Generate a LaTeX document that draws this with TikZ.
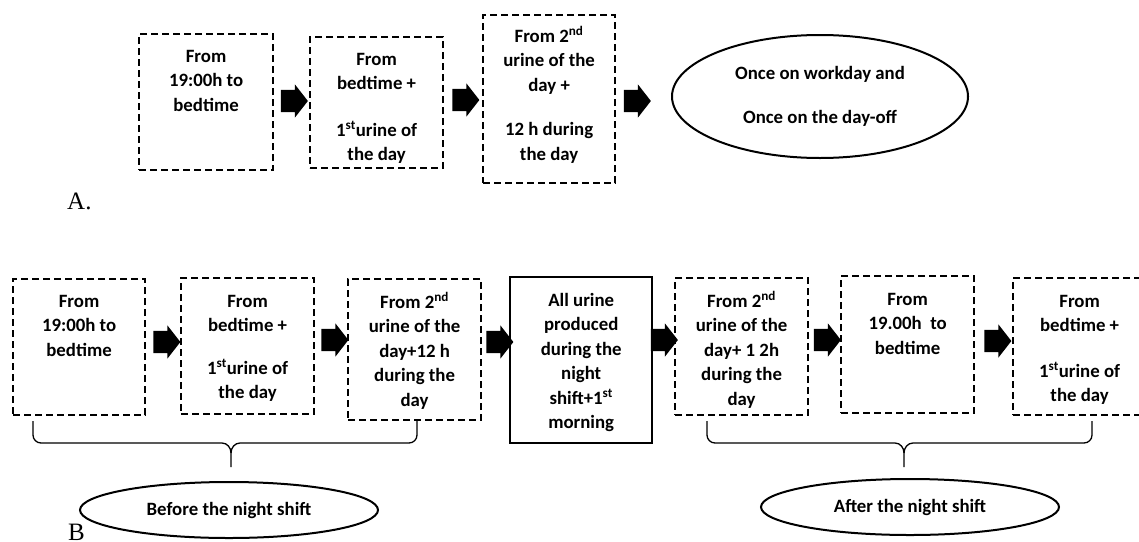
\documentclass[tikz,border=0pt]{standalone}
\usepackage{fontspec}
\setmainfont{Carlito}
\newfontfamily\labfont{Liberation Serif}
\usetikzlibrary{shapes.arrows,shapes.geometric}
\newcommand{\bxt}[4]{\parbox[c][#2pt][t]{#1pt}{\centering\rule{0pt}{#3pt}#4\par}}
\newcommand{\sups}[1]{\textsuperscript{#1}}
\tikzset{
  boxfont/.style={font=\bfseries\fontsize{18.8}{24.5}\selectfont},
  dbox/.style={draw, dash pattern=on 7pt off 4pt, line width=2.2pt, inner sep=0pt, anchor=north west, boxfont},
  sbox/.style={draw, line width=2.4pt, inner sep=0pt, anchor=north west, boxfont},
  barrow/.style={single arrow, fill=black, draw=none, minimum height=27pt, inner xsep=0pt, inner ysep=11pt, single arrow head extend=5.5pt, single arrow tip angle=104, anchor=center},
  oval/.style={ellipse, draw, line width=2pt, inner sep=0pt, align=center, boxfont},
  brace/.style={draw, line width=1.3pt},
  lab/.style={font=\labfont\fontsize{25}{25}\selectfont, anchor=base west, inner sep=0pt}
}
\begin{document}
\begin{tikzpicture}[x=1pt,y=-1pt]
\useasboundingbox (0,0) rectangle (1139,541);
% Row A
\node[dbox] (A1) at (138,33) {\bxt{134}{136}{28}{From\\19:00h to\\bedtime}};
\node[dbox] (A2) at (309,36) {\bxt{133}{131}{28}{From\\bedtime +\\[22pt]1\sups{st}urine of\\the day}};
\node[dbox] (A3) at (482,14) {\bxt{132}{168}{27}{From 2\sups{nd}\\urine of the\\day +\\[20pt]12 h during\\the day}};
\node[oval, minimum width=296pt, minimum height=123pt] (A4) at (820,96.5) {Once on workday and\\[20pt]Once on the day-off};
\node[barrow] (aA1) at (290,101) {};
\node[barrow] (aA2) at (461.5,100) {};
\node[barrow] (aA3) at (633,101) {};
\node[lab] (labA) at (67,209) {A.};
% Row B
\node[dbox] (B1) at (12,278) {\bxt{132}{136}{28}{From\\19:00h to\\bedtime}};
\node[dbox] (B2) at (180,277) {\bxt{133}{136}{29}{From\\bedtime +\\[18pt]1\sups{st}urine of\\the day}};
\node[dbox] (B3) at (347,278) {\bxt{133}{141}{29}{From 2\sups{nd}\\urine of the\\day+12 h\\during the\\day}};
\node[sbox] (B4) at (509,276) {\bxt{142}{166}{29}{All urine\\produced\\during the\\night\\shift+1\sups{st}\\morning}};
\node[dbox] (B5) at (674,277) {\bxt{133}{137}{29}{From 2\sups{nd}\\urine of the\\day+ 1 2h\\during the\\day}};
\node[dbox] (B6) at (840,275) {\bxt{133}{137}{29}{From\\19.00h\ \ to\\bedtime}};
\node[dbox] (B7) at (1012,277) {\bxt{133}{137}{29}{From\\bedtime +\\[21pt]1\sups{st}urine of\\the day}};
\node[barrow] (aB1) at (162.5,342) {};
\node[barrow] (aB2) at (330.5,340) {};
\node[barrow] (aB3) at (495.5,342) {};
\node[barrow] (aB4) at (660,340) {};
\node[barrow] (aB5) at (823,340) {};
\node[barrow] (aB6) at (993.5,341) {};
% braces
\coordinate (L1) at (33,421);
\coordinate (L2) at (417,421);
\coordinate (Lt) at (231,467);
\coordinate (R1) at (707,421);
\coordinate (R2) at (1092,421);
\coordinate (Rt) at (904,467);
\draw[brace] (L1) -- (33,435) to[out=-90,in=180] (41,443) -- (222,443) to[out=0,in=90] (Lt |- 0,453) -- (Lt);
\draw[brace] (L2) -- (417,435) to[out=-90,in=0] (409,443) -- (240,443) to[out=180,in=90] (Lt |- 0,453);
\draw[brace] (R1) -- (707,435) to[out=-90,in=180] (715,443) -- (895,443) to[out=0,in=90] (Rt |- 0,453) -- (Rt);
\draw[brace] (R2) -- (1092,435) to[out=-90,in=0] (1084,443) -- (913,443) to[out=180,in=90] (Rt |- 0,453);
\node[oval, minimum width=298pt, minimum height=56pt] (E1) at (229,510) {Before the night shift};
\node[oval, minimum width=298pt, minimum height=56pt] (E2) at (910,507) {After the night shift};
\node[lab] (labB) at (68,540) {B};
\end{tikzpicture}
\end{document}
